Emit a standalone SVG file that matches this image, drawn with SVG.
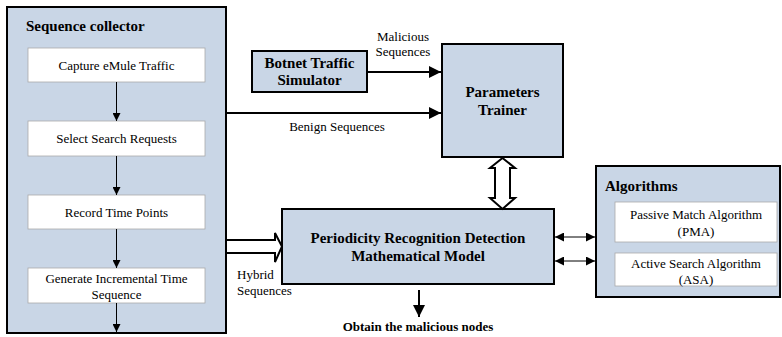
<svg xmlns="http://www.w3.org/2000/svg" width="782" height="337" viewBox="0 0 782 337" font-family="Liberation Serif" font-size="13" fill="#000">
<defs>
<marker id="ah" viewBox="0 0 10 10" refX="10" refY="5" markerWidth="9" markerHeight="8" markerUnits="userSpaceOnUse" orient="auto-start-reverse">
<path d="M0,0 L10,5 L0,10 z" fill="#000"/>
</marker>
<marker id="ahB" viewBox="0 0 10 10" refX="10" refY="5" markerWidth="13" markerHeight="12" markerUnits="userSpaceOnUse" orient="auto-start-reverse">
<path d="M0,0 L10,5 L0,10 z" fill="#000"/>
</marker>
<marker id="ahS" viewBox="0 0 10 10" refX="10" refY="5" markerWidth="11" markerHeight="9" markerUnits="userSpaceOnUse" orient="auto-start-reverse">
<path d="M0,0 L10,5 L0,10 z" fill="#000"/>
</marker>
</defs>
<g id="sequence-collector">
<rect x="7" y="7" width="219" height="326" fill="#c9d6e6" stroke="#000" stroke-width="2"/>
<text font-family="Liberation Serif" font-size="15" font-weight="bold" x="26" y="31">Sequence collector</text>
</g>
<g id="capture">
<rect x="28" y="48" width="177" height="34" fill="#fff" stroke="#aaa" stroke-width="0.8"/>
<text font-family="Liberation Serif" font-size="13" text-anchor="middle" x="116.5" y="70">Capture eMule Traffic</text>
</g>
<g id="select">
<rect x="28" y="121" width="177" height="35" fill="#fff" stroke="#aaa" stroke-width="0.8"/>
<text font-family="Liberation Serif" font-size="13" text-anchor="middle" x="116.5" y="143">Select Search Requests</text>
</g>
<g id="record">
<rect x="28" y="195" width="177" height="34" fill="#fff" stroke="#aaa" stroke-width="0.8"/>
<text font-family="Liberation Serif" font-size="13" text-anchor="middle" x="116.5" y="217">Record Time Points</text>
</g>
<g id="generate">
<rect x="28" y="268" width="177" height="35" fill="#fff" stroke="#aaa" stroke-width="0.8"/>
<text font-family="Liberation Serif" font-size="13" text-anchor="middle" x="116.5" y="283">Generate Incremental Time</text>
<text font-family="Liberation Serif" font-size="13" text-anchor="middle" x="116.5" y="299">Sequence</text>
</g>
<g id="botnet">
<rect x="252" y="51" width="115" height="41" fill="#c9d6e6" stroke="#000" stroke-width="2"/>
<text font-family="Liberation Serif" font-size="15" font-weight="bold" text-anchor="middle" x="309.5" y="68">Botnet Traffic</text>
<text font-family="Liberation Serif" font-size="15" font-weight="bold" text-anchor="middle" x="309.5" y="85">Simulator</text>
</g>
<g id="trainer">
<rect x="442" y="44" width="121" height="113" fill="#c9d6e6" stroke="#000" stroke-width="2"/>
<text font-family="Liberation Serif" font-size="15" font-weight="bold" text-anchor="middle" x="502.5" y="97">Parameters</text>
<text font-family="Liberation Serif" font-size="15" font-weight="bold" text-anchor="middle" x="502.5" y="115">Trainer</text>
</g>
<g id="model">
<rect x="282" y="209" width="272" height="75" fill="#c9d6e6" stroke="#000" stroke-width="2"/>
<text font-family="Liberation Serif" font-size="15" font-weight="bold" text-anchor="middle" x="418" y="243">Periodicity Recognition Detection</text>
<text font-family="Liberation Serif" font-size="15" font-weight="bold" text-anchor="middle" x="418" y="261">Mathematical Model</text>
</g>
<g id="algorithms">
<rect x="596" y="166" width="184" height="131" fill="#c9d6e6" stroke="#000" stroke-width="2"/>
<text font-family="Liberation Serif" font-size="15" font-weight="bold" x="605" y="191">Algorithms</text>
</g>
<g id="pma">
<rect x="615" y="202" width="162" height="40" fill="#fff" stroke="#aaa" stroke-width="0.8"/>
<text font-family="Liberation Serif" font-size="13" text-anchor="middle" x="696" y="219">Passive Match Algorithm</text>
<text font-family="Liberation Serif" font-size="13" text-anchor="middle" x="696" y="236">(PMA)</text>
</g>
<g id="asa">
<rect x="615" y="253" width="162" height="33" fill="#fff" stroke="#aaa" stroke-width="0.8"/>
<text font-family="Liberation Serif" font-size="13" text-anchor="middle" x="696" y="268">Active Search Algorithm</text>
<text font-family="Liberation Serif" font-size="13" text-anchor="middle" x="696" y="284">(ASA)</text>
</g>
<g id="obtain">
<text font-family="Liberation Serif" font-size="13" font-weight="bold" text-anchor="middle" x="418" y="331">Obtain the malicious nodes</text>
</g>
<g id="connectors" stroke="#000" fill="none">
<g stroke-width="1">
<line x1="116.5" y1="82" x2="116.5" y2="121" marker-end="url(#ah)"/>
<line x1="116.5" y1="156" x2="116.5" y2="195" marker-end="url(#ah)"/>
<line x1="116.5" y1="229" x2="116.5" y2="268" marker-end="url(#ah)"/>
<line x1="116.5" y1="303" x2="116.5" y2="332" marker-end="url(#ah)"/>
<line x1="555" y1="237" x2="595" y2="237" marker-start="url(#ahS)" marker-end="url(#ahS)"/>
<line x1="555" y1="261" x2="595" y2="261" marker-start="url(#ahS)" marker-end="url(#ahS)"/>
</g>
<g stroke-width="2">
<line x1="226" y1="113" x2="441" y2="113" marker-end="url(#ahB)"/>
<line x1="367" y1="72" x2="441" y2="72" marker-end="url(#ahB)"/>
<line x1="419" y1="290" x2="419" y2="317" marker-end="url(#ahB)"/>
<path fill="#fff" d="M227,240 L275,240 L275,233 L282,246.5 L275,262 L275,253 L227,253"/>
<path fill="#fff" d="M502.5,158 L515,168 L510,168 L510,198 L515,198 L502.5,209 L490,198 L495,198 L495,168 L490,168 z"/>
</g>
<g stroke="none" fill="#000" font-family="Liberation Serif" font-size="13">
<text text-anchor="middle" x="403" y="41">Malicious</text>
<text text-anchor="middle" x="403" y="56">Sequences</text>
<text text-anchor="middle" x="337" y="131">Benign Sequences</text>
<text x="237" y="279">Hybrid</text>
<text x="237" y="295">Sequences</text>
</g>
</g>
</svg>
